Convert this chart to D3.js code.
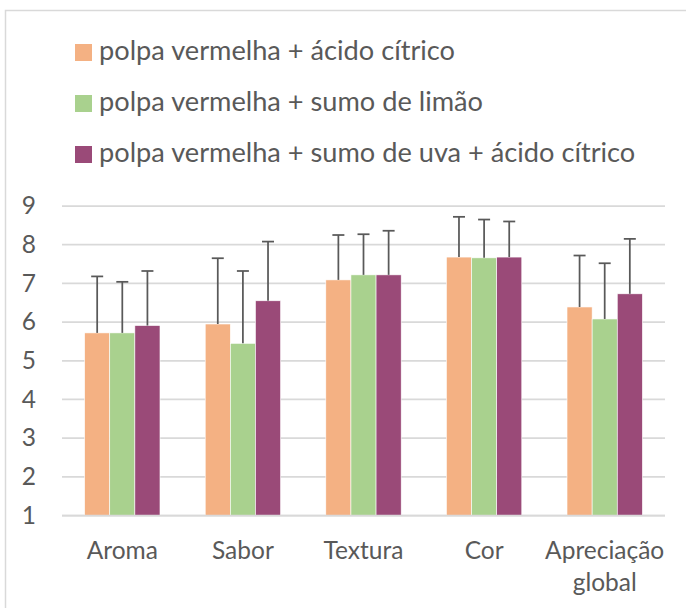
<!DOCTYPE html>
<html>
<head>
<meta charset="utf-8">
<script src="https://cdn.jsdelivr.net/npm/d3@7"></script>
<style>
body{margin:0;background:#fff;}
text{font-family:Lato,"Open Sans",sans-serif;fill:#595959;}
</style>
</head>
<body>
<svg id="chart" width="686" height="608"></svg>
<script>
var categories=["Aroma","Sabor","Textura","Cor","Apreciação global"];
var seriesNames=["polpa vermelha + ácido cítrico","polpa vermelha + sumo de limão","polpa vermelha + sumo de uva + ácido cítrico"];
var colors=["#F4B183","#A9D18E","#9A4A78"];
// mean scores per series
var acidoCitrico=[5.72,5.95,7.09,7.68,6.39];
var sumoLimao=[5.72,5.45,7.22,7.66,6.08];
var sumoUva=[5.91,6.55,7.22,7.68,6.73];
// standard deviations (upper error bars)
var sdAcidoCitrico=[1.46,1.70,1.16,1.04,1.33];
var sdSumoLimao=[1.32,1.87,1.05,0.99,1.44];
var sdSumoUva=[1.41,1.53,1.14,0.92,1.42];
var yTicks=[1,2,3,4,5,6,7,8,9];

var means=[acidoCitrico,sumoLimao,sumoUva];
var sds=[sdAcidoCitrico,sdSumoLimao,sdSumoUva];

var svg=d3.select("#chart");

//chart border (only left and top are visible in the picture)
svg.append("rect").attr("x",5.5).attr("y",10.5).attr("width",760).attr("height",700)
	.attr("fill","none").attr("stroke","#D9D9D9").attr("stroke-width",1.5);

var x0=d3.scaleBand().domain(categories).range([62,665]).padding(0);
var x1=d3.scaleBand().domain([0,1,2]).range([0,x0.bandwidth()]).paddingInner(0).paddingOuter(0.9);
var y=d3.scaleLinear().domain([1,9]).range([515.5,206]);

//gridlines
svg.append("g").selectAll("line").data(yTicks).enter().append("line")
	.attr("x1",62).attr("x2",665).attr("y1",function(d){return y(d);}).attr("y2",function(d){return y(d);})
	.attr("stroke","#D9D9D9").attr("stroke-width",1.75);

//y axis labels
var yAxis=d3.axisLeft(y).tickValues(yTicks).tickSize(0).tickPadding(0).tickFormat(d3.format("d"));
var gy=svg.append("g").attr("transform","translate(36,0)").call(yAxis);
gy.select(".domain").remove();
gy.selectAll("text").style("font-size","24.5px").attr("fill","#595959").style("font-family","Lato");

//bars
var rows=[];
for(var s=0;s<3;s++){
	for(var c=0;c<categories.length;c++){
		rows.push({s:s,cat:categories[c],v:means[s][c],sd:sds[s][c]});
	}
}
svg.append("g").selectAll("rect").data(rows).enter().append("rect")
	.attr("x",function(d){return x0(d.cat)+x1(d.s);})
	.attr("y",function(d){return y(d.v);})
	.attr("width",x1.bandwidth())
	.attr("height",function(d){return y(1)-y(d.v);})
	.attr("fill",function(d){return colors[d.s];})
	.attr("stroke","#fff").attr("stroke-width",0.6);

//error bars (plus direction only)
var eb=svg.append("g").selectAll("g").data(rows).enter().append("g");
eb.append("line")
	.attr("x1",function(d){return x0(d.cat)+x1(d.s)+x1.bandwidth()/2;})
	.attr("x2",function(d){return x0(d.cat)+x1(d.s)+x1.bandwidth()/2;})
	.attr("y1",function(d){return y(d.v);})
	.attr("y2",function(d){return y(d.v+d.sd);})
	.attr("stroke","#595959").attr("stroke-width",1.75);
eb.append("line")
	.attr("x1",function(d){return x0(d.cat)+x1(d.s)+x1.bandwidth()/2-6;})
	.attr("x2",function(d){return x0(d.cat)+x1(d.s)+x1.bandwidth()/2+6;})
	.attr("y1",function(d){return y(d.v+d.sd);})
	.attr("y2",function(d){return y(d.v+d.sd);})
	.attr("stroke","#595959").attr("stroke-width",1.75);

//x axis line
svg.append("line").attr("x1",62).attr("x2",665).attr("y1",y(1)).attr("y2",y(1))
	.attr("stroke","#D9D9D9").attr("stroke-width",1.75);

//category labels, wrapped on space for the long one
var xl=svg.append("g").selectAll("text").data(categories).enter().append("text")
	.attr("text-anchor","middle").style("font-size","24.5px")
	.attr("x",function(d){return x0(d)+x0.bandwidth()/2;})
	.attr("y",559);
xl.each(function(d){
	var words=d.split(" ");
	var t=d3.select(this);
	if(words.length>1 && d.length>12){
		words.forEach(function(w,i){
			t.append("tspan").attr("x",x0(d)+x0.bandwidth()/2).attr("dy",i==0?0:31.5).text(w);
		});
	}
	else{
		t.text(d);
	}
});

//legend
var lg=svg.append("g").selectAll("g").data(seriesNames).enter().append("g")
	.attr("transform",function(d,i){return "translate(75,"+(60+i*51)+")";});
lg.append("rect").attr("x",0).attr("y",-16).attr("width",17).attr("height",17)
	.attr("fill",function(d,i){return colors[i];});
lg.append("text").attr("x",24).attr("y",0).style("font-size","27.2px").text(function(d){return d;});
</script>
</body>
</html>
